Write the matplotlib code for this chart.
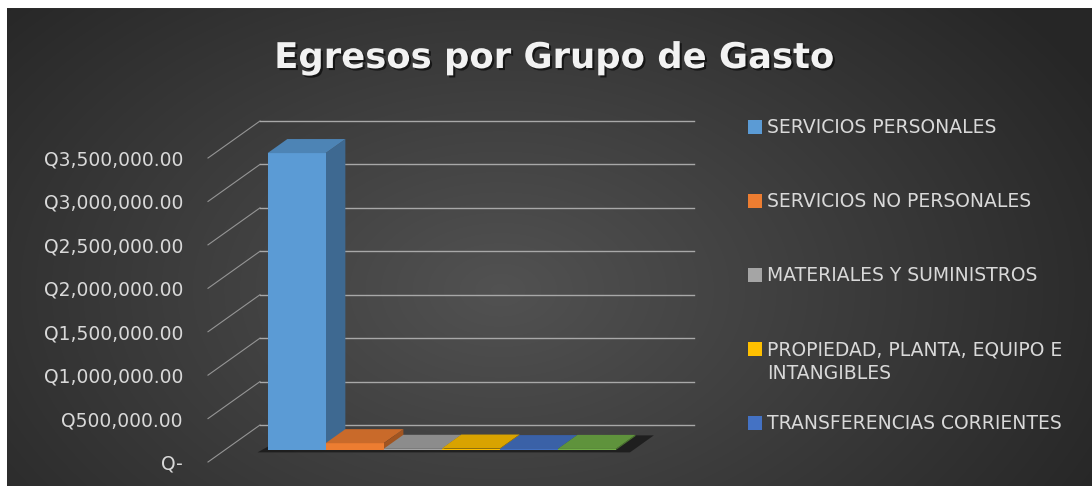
import textwrap
import numpy as np
import matplotlib
matplotlib.use("Agg")
import matplotlib.pyplot as plt
from matplotlib.patches import Polygon, Rectangle
from matplotlib.transforms import IdentityTransform
import matplotlib.patheffects as pe

# datos
grupos = ["SERVICIOS PERSONALES", "SERVICIOS NO PERSONALES", "MATERIALES Y SUMINISTROS",
          "PROPIEDAD, PLANTA, EQUIPO E INTANGIBLES", "TRANSFERENCIAS CORRIENTES",
          "OTROS"]
montos = [3420000, 80000, 15000, 18000, 12000, 14000]
ticks = [0, 500000, 1000000, 1500000, 2000000, 2500000, 3000000, 3500000]

colores = ["#5B9BD5", "#ED7D31", "#A5A5A5", "#FFC000", "#4472C4", "#70AD47"]
font = "DejaVu Sans"

W, H = 1092, 486
fig = plt.figure(figsize=(W / 100, H / 100), dpi=100)

# fondo con degradado radial
bg = fig.add_axes([0, 0, 1, 1])
yy, xx = np.mgrid[0:H, 0:W]
r = np.sqrt(((xx - 500) / 680.0) ** 2 + ((yy - 290) / 440.0) ** 2)
g = 0.32 - 0.17 * np.clip(r, 0, 1)
img = np.dstack([g, g, g])
img[:9, :, :] = 1.0
img[:, :7, :] = 1.0
bg.imshow(img, extent=[0, W, H, 0], aspect="auto", interpolation="bilinear")
bg.set_axis_off()

ax = fig.add_axes([208 / W, (H - 462) / H, 434 / W, (462 - 158) / H])
ax.set_facecolor("none")
ax.set_ylim(0, 3500000)
ax.set_xlim(-1.24, 6.24)
for s in ax.spines.values():
    s.set_visible(False)
ax.set_xticks([])
ax.set_yticks(ticks)
ax.set_yticklabels(["Q-" if t == 0 else "Q{:,.2f}".format(t) for t in ticks],
                   fontsize=13.5, color="#d9d9d9", family=font)
ax.tick_params(axis="y", length=0, pad=18)

DX, DY = 52, 37  # profundidad en pixeles


def proj(x, y, f):
    px, py = ax.transData.transform((x, y))
    return (px + f * DX, py + f * DY)


def poly(pts, color, z, alpha=1.0):
    fig.patches.append(Polygon(pts, closed=True, transform=IdentityTransform(),
                               facecolor=color, edgecolor="none", zorder=z,
                               alpha=alpha, figure=fig))


x0, x1 = ax.get_xlim()
# lineas de cuadricula (pared izquierda y pared del fondo)
for t in ticks:
    a = proj(x0, t, 0)
    b = proj(x0, t, 1)
    c = proj(x1, t, 1)
    fig.lines.append(plt.Line2D([a[0], b[0]], [a[1], b[1]], transform=IdentityTransform(),
                                color="#959595", lw=0.8, figure=fig, zorder=2))
    fig.lines.append(plt.Line2D([b[0], c[0]], [b[1], c[1]], transform=IdentityTransform(),
                                color="#a8a8a8", lw=1.0, figure=fig, zorder=2))

f0, f1 = 0.32, 0.70
n = len(montos)
# sombra del piso
poly([proj(-0.62, 0, f0 - 0.06), proj(n - 0.5 + 0.3, 0, f0 - 0.06),
      proj(n - 0.5 + 0.3, 0, f1 + 0.02), proj(-0.5, 0, f1 + 0.02)], "#151515", 3, alpha=0.75)


def oscuro(c, k):
    rgb = np.array(matplotlib.colors.to_rgb(c))
    return tuple(rgb * k)


for i, (v, c) in enumerate(zip(montos, colores)):
    xl, xr = i - 0.5, i + 0.5
    # cara lateral
    poly([proj(xr, 0, f0), proj(xr, 0, f1), proj(xr, v, f1), proj(xr, v, f0)], oscuro(c, 0.68), 4 + i)
    # cara frontal
    poly([proj(xl, 0, f0), proj(xr, 0, f0), proj(xr, v, f0), proj(xl, v, f0)], c, 4 + i)
    # cara superior
    poly([proj(xl, v, f0), proj(xr, v, f0), proj(xr, v, f1), proj(xl, v, f1)], oscuro(c, 0.85), 4 + i)

# titulo
fig.text(554 / W, 1 - 58 / H, "Egresos por Grupo de Gasto", ha="center", va="center",
         fontsize=25.5, fontweight="bold", color="#f2f2f2", family=font,
         path_effects=[pe.withSimplePatchShadow(offset=(1.5, -1.5), shadow_rgbFace="black", alpha=0.6)])

# leyenda
ley_y = [127, 201, 275, 349, 423]
for k, yv in enumerate(ley_y):
    fig.patches.append(Rectangle((748 / W, 1 - (yv + 7) / H), 14 / W, 14 / H,
                                 transform=fig.transFigure, facecolor=colores[k],
                                 edgecolor="none", figure=fig, zorder=5))
    fig.text(767 / W, 1 - (yv - 9) / H, textwrap.fill(grupos[k], 27), ha="left", va="top",
             fontsize=13.5, color="#d9d9d9", family=font, linespacing=1.3)

fig.savefig("out.png", dpi=100)
